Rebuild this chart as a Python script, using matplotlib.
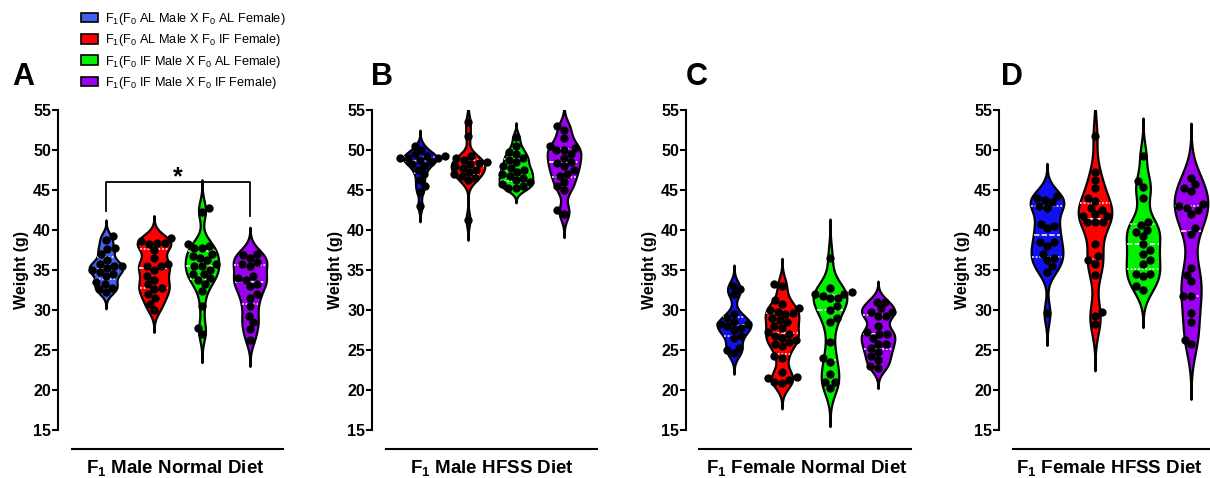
import numpy as np
import matplotlib
matplotlib.use('Agg')
import matplotlib.pyplot as plt
from matplotlib.patches import Patch

plt.rcParams['font.family'] = ['Liberation Sans', 'DejaVu Sans']
plt.rcParams['mathtext.default'] = 'regular'

# group names and colours
groups = ['F$_1$(F$_0$ AL Male X F$_0$ AL Female)',
          'F$_1$(F$_0$ AL Male X F$_0$ IF Female)',
          'F$_1$(F$_0$ IF Male X F$_0$ AL Female)',
          'F$_1$(F$_0$ IF Male X F$_0$ IF Female)']
colors_a = ['#4060F0', '#FF0000', '#00F000', '#9B00F0']
colors_bcd = ['#1010F0', '#FF0000', '#00F000', '#9B00F0']

panel_letters = ['A', 'B', 'C', 'D']
panel_titles = ['F$_1$ Male Normal Diet', 'F$_1$ Male HFSS Diet',
                'F$_1$ Female Normal Diet', 'F$_1$ Female HFSS Diet']

# weights (g)
male_nd_alal = [39.2, 38.8, 37.8, 37.6, 37.0, 36.3, 35.8, 35.5, 35.5, 35.3,
                35.0, 34.8, 34.5, 34.2, 33.5, 33.2, 32.8, 32.6, 32.2]
male_nd_alif = [39.0, 38.6, 38.4, 38.4, 38.2, 37.5, 36.5, 35.8, 35.5, 35.5,
                35.0, 34.2, 33.8, 33.2, 32.8, 32.6, 32.0, 31.5, 30.8, 30.0]
male_nd_ifal = [42.7, 42.2, 38.3, 38.0, 37.8, 37.7, 37.0, 36.8, 36.5, 36.2,
                35.7, 35.5, 35.5, 35.0, 34.5, 34.5, 34.0, 33.8, 33.3, 32.4,
                30.5, 27.8, 27.0]
male_nd_ifif = [37.0, 36.9, 36.5, 36.0, 35.7, 35.5, 34.2, 34.0, 33.8, 33.3,
                33.0, 32.0, 31.5, 30.5, 29.3, 28.5, 27.6, 26.3]

male_hf_alal = [50.5, 50.0, 49.5, 49.3, 49.2, 49.0, 49.0, 49.0, 48.8, 48.5,
                48.2, 48.0, 47.5, 47.0, 46.2, 45.5, 44.8, 43.0]
male_hf_alif = [53.5, 51.8, 49.2, 49.0, 48.8, 48.5, 48.4, 48.2, 48.0, 47.8,
                47.5, 47.2, 47.0, 46.8, 46.5, 46.2, 41.3]
male_hf_ifal = [51.6, 50.5, 49.8, 49.5, 49.0, 48.8, 48.5, 48.0, 47.8, 47.5,
                47.2, 47.0, 46.8, 46.5, 46.2, 46.0, 45.8, 45.5, 45.2, 45.2]
male_hf_ifif = [53.0, 52.5, 51.5, 50.5, 50.3, 50.0, 50.0, 49.5, 49.0, 48.5,
                48.4, 48.0, 47.5, 47.0, 46.8, 46.0, 45.5, 45.0, 42.5, 42.0]

female_nd_alal = [33.0, 32.6, 32.0, 29.5, 29.0, 28.5, 28.3, 28.2, 28.0, 27.8,
                  27.5, 26.8, 26.5, 25.3, 25.0, 24.6]
female_nd_alif = [33.2, 33.0, 31.2, 30.8, 30.2, 30.0, 29.8, 29.6, 29.5, 29.0,
                  28.8, 28.5, 28.0, 27.8, 27.3, 27.0, 26.8, 26.5, 26.2, 26.0,
                  25.8, 25.5, 24.2, 24.0, 22.2, 21.6, 21.5, 21.2, 21.0, 20.9]
female_nd_ifal = [36.5, 32.8, 32.2, 32.0, 32.0, 31.8, 31.5, 31.5, 30.5, 30.0,
                  29.0, 28.5, 26.0, 24.0, 23.5, 22.0, 21.0, 21.0, 20.3]
female_nd_ifif = [31.0, 31.0, 30.2, 29.8, 29.8, 29.3, 29.3, 28.0, 27.2, 27.0,
                  27.0, 26.5, 25.8, 25.8, 25.2, 24.8, 24.2, 23.8, 23.0, 22.8]

female_hf_alal = [44.3, 44.0, 43.8, 43.5, 43.0, 42.8, 40.8, 40.5, 40.2, 38.5,
                  38.5, 38.0, 37.0, 36.5, 36.2, 35.5, 34.8, 29.6]
female_hf_alif = [51.8, 47.2, 46.2, 45.2, 44.0, 43.6, 42.8, 42.5, 42.0, 41.8,
                  41.8, 41.0, 41.0, 41.0, 38.2, 36.7, 36.2, 35.8, 34.4, 29.7,
                  29.2, 28.2]
female_hf_ifal = [49.3, 46.1, 45.4, 44.0, 41.0, 40.6, 40.0, 39.7, 39.2, 38.2,
                  37.5, 37.0, 36.2, 35.7, 34.5, 34.5, 34.2, 33.0, 32.5]
female_hf_ifif = [46.5, 45.7, 45.3, 44.9, 43.2, 43.0, 42.8, 42.5, 42.0, 40.3,
                  39.5, 35.2, 34.4, 33.6, 31.8, 31.8, 29.6, 28.5, 26.3, 25.7]

panels = [[male_nd_alal, male_nd_alif, male_nd_ifal, male_nd_ifif],
          [male_hf_alal, male_hf_alif, male_hf_ifal, male_hf_ifif],
          [female_nd_alal, female_nd_alif, female_nd_ifal, female_nd_ifif],
          [female_hf_alal, female_hf_alif, female_hf_ifal, female_hf_ifif]]

# layout in pixels
W, H = 1210, 478
PX_X = 48.0    # pixels per category step
PX_Y = 8.0     # pixels per gram
ax_left = [58, 372, 686, 999]
ax_width = [225, 225, 225, 211]
line_start = [0.29, 0.29, 0.27, 0.29]
title_x = [2.45, 2.5, 2.52, 2.31]
letter_x = [23, 382, 697, 1012]
HALF_W = 0.35


def kde(vals, grid, bw):
    z = (grid[:, None] - vals[None, :]) / bw
    return np.exp(-0.5 * z ** 2).sum(axis=1)


def swarm(vals, d=7.8):
    # simple beeswarm in pixel space
    y = np.asarray(vals) * PX_Y
    order = np.argsort(y)
    xs = np.zeros(len(y))
    placed = []
    for k, i in enumerate(order):
        cands = [0.0]
        for j in placed:
            dy = y[i] - y[j]
            if abs(dy) < d:
                dx = np.sqrt(d * d - dy * dy)
                cands += [xs[j] + dx, xs[j] - dx]
        sgn = 1 if k % 2 else -1
        cands = sorted(cands, key=lambda c: (round(abs(c), 3), c * sgn))
        for c in cands:
            if all((y[i] - y[j]) ** 2 + (c - xs[j]) ** 2 >= d * d - 1e-6
                   for j in placed):
                xs[i] = c
                break
        placed.append(i)
    return xs / PX_X


def draw_violin(ax, vals, pos, color):
    vals = np.asarray(vals, dtype=float)
    n = len(vals)
    bw = vals.std(ddof=1) * n ** (-0.2) * 0.6
    grid = np.linspace(vals.min() - 3 * bw, vals.max() + 3 * bw, 400)
    dens = kde(vals, grid, bw)
    dens = dens / dens.max() * HALF_W
    ax.fill_betweenx(grid, pos - dens, pos + dens, facecolor=color,
                     edgecolor='black', linewidth=1.6, zorder=2)
    # median and quartiles
    q1, med, q3 = np.percentile(vals, [25, 50, 75])
    for q, ls in [(q1, (0, (1.2, 1.2))), (med, (0, (3.5, 1.5))),
                  (q3, (0, (1.2, 1.2)))]:
        w = np.interp(q, grid, dens) * 0.95
        ax.plot([pos - w, pos + w], [q, q], color='white', lw=1.1,
                linestyle=ls, zorder=3)
    xs = swarm(vals)
    ax.plot(pos + xs, vals, 'o', color='black', ms=6.0, zorder=4,
            markeredgewidth=0)


fig = plt.figure(figsize=(W / 100, H / 100), dpi=100)

for p in range(4):
    ax = fig.add_axes([ax_left[p] / W, 48 / H, ax_width[p] / W, 320 / H])
    cols = colors_a if p == 0 else colors_bcd
    for g in range(4):
        draw_violin(ax, panels[p][g], g + 1, cols[g])
    xmax = ax_width[p] / PX_X
    ax.set_xlim(0, xmax)
    ax.set_ylim(15, 55)
    ax.set_yticks(np.arange(15, 56, 5))
    ax.set_xticks([])
    for s in ['top', 'right', 'bottom']:
        ax.spines[s].set_visible(False)
    ax.spines['left'].set_linewidth(1.5)
    ax.tick_params(axis='y', length=4, width=1.5, pad=1, labelsize=11.5)
    for lab in ax.get_yticklabels():
        lab.set_fontweight('bold')
    ax.set_ylabel('Weight (g)', fontsize=11.5, fontweight='bold', labelpad=3)
    # group line and title under the plot
    ax.plot([line_start[p], xmax], [-0.059, -0.059], color='black', lw=1.5,
            transform=ax.get_xaxis_transform(), clip_on=False)
    ax.text(title_x[p], -0.118, panel_titles[p], fontsize=13.5,
            fontweight='bold', ha='center', va='center',
            transform=ax.get_xaxis_transform())
    fig.text(letter_x[p] / W, 1 - 77 / H, panel_letters[p], fontsize=22,
             fontweight='bold', ha='center', va='center')
    if p == 0:
        ax.plot([1, 1, 4, 4], [42.4, 46, 46, 41.8], color='black', lw=1.3,
                zorder=5)
        ax.text(2.5, 46.6, '*', fontsize=18, fontweight='bold',
                ha='center', va='center')

handles = [Patch(facecolor=c, edgecolor='black', linewidth=1.2)
           for c in colors_a]
fig.legend(handles, groups, loc='upper left',
           bbox_to_anchor=(72 / W, 1 - 2 / H), frameon=False, fontsize=9.2,
           handlelength=1.3, handleheight=0.8, labelspacing=0.42,
           handletextpad=0.6, borderpad=0.2)

fig.savefig('out.png', dpi=100)
